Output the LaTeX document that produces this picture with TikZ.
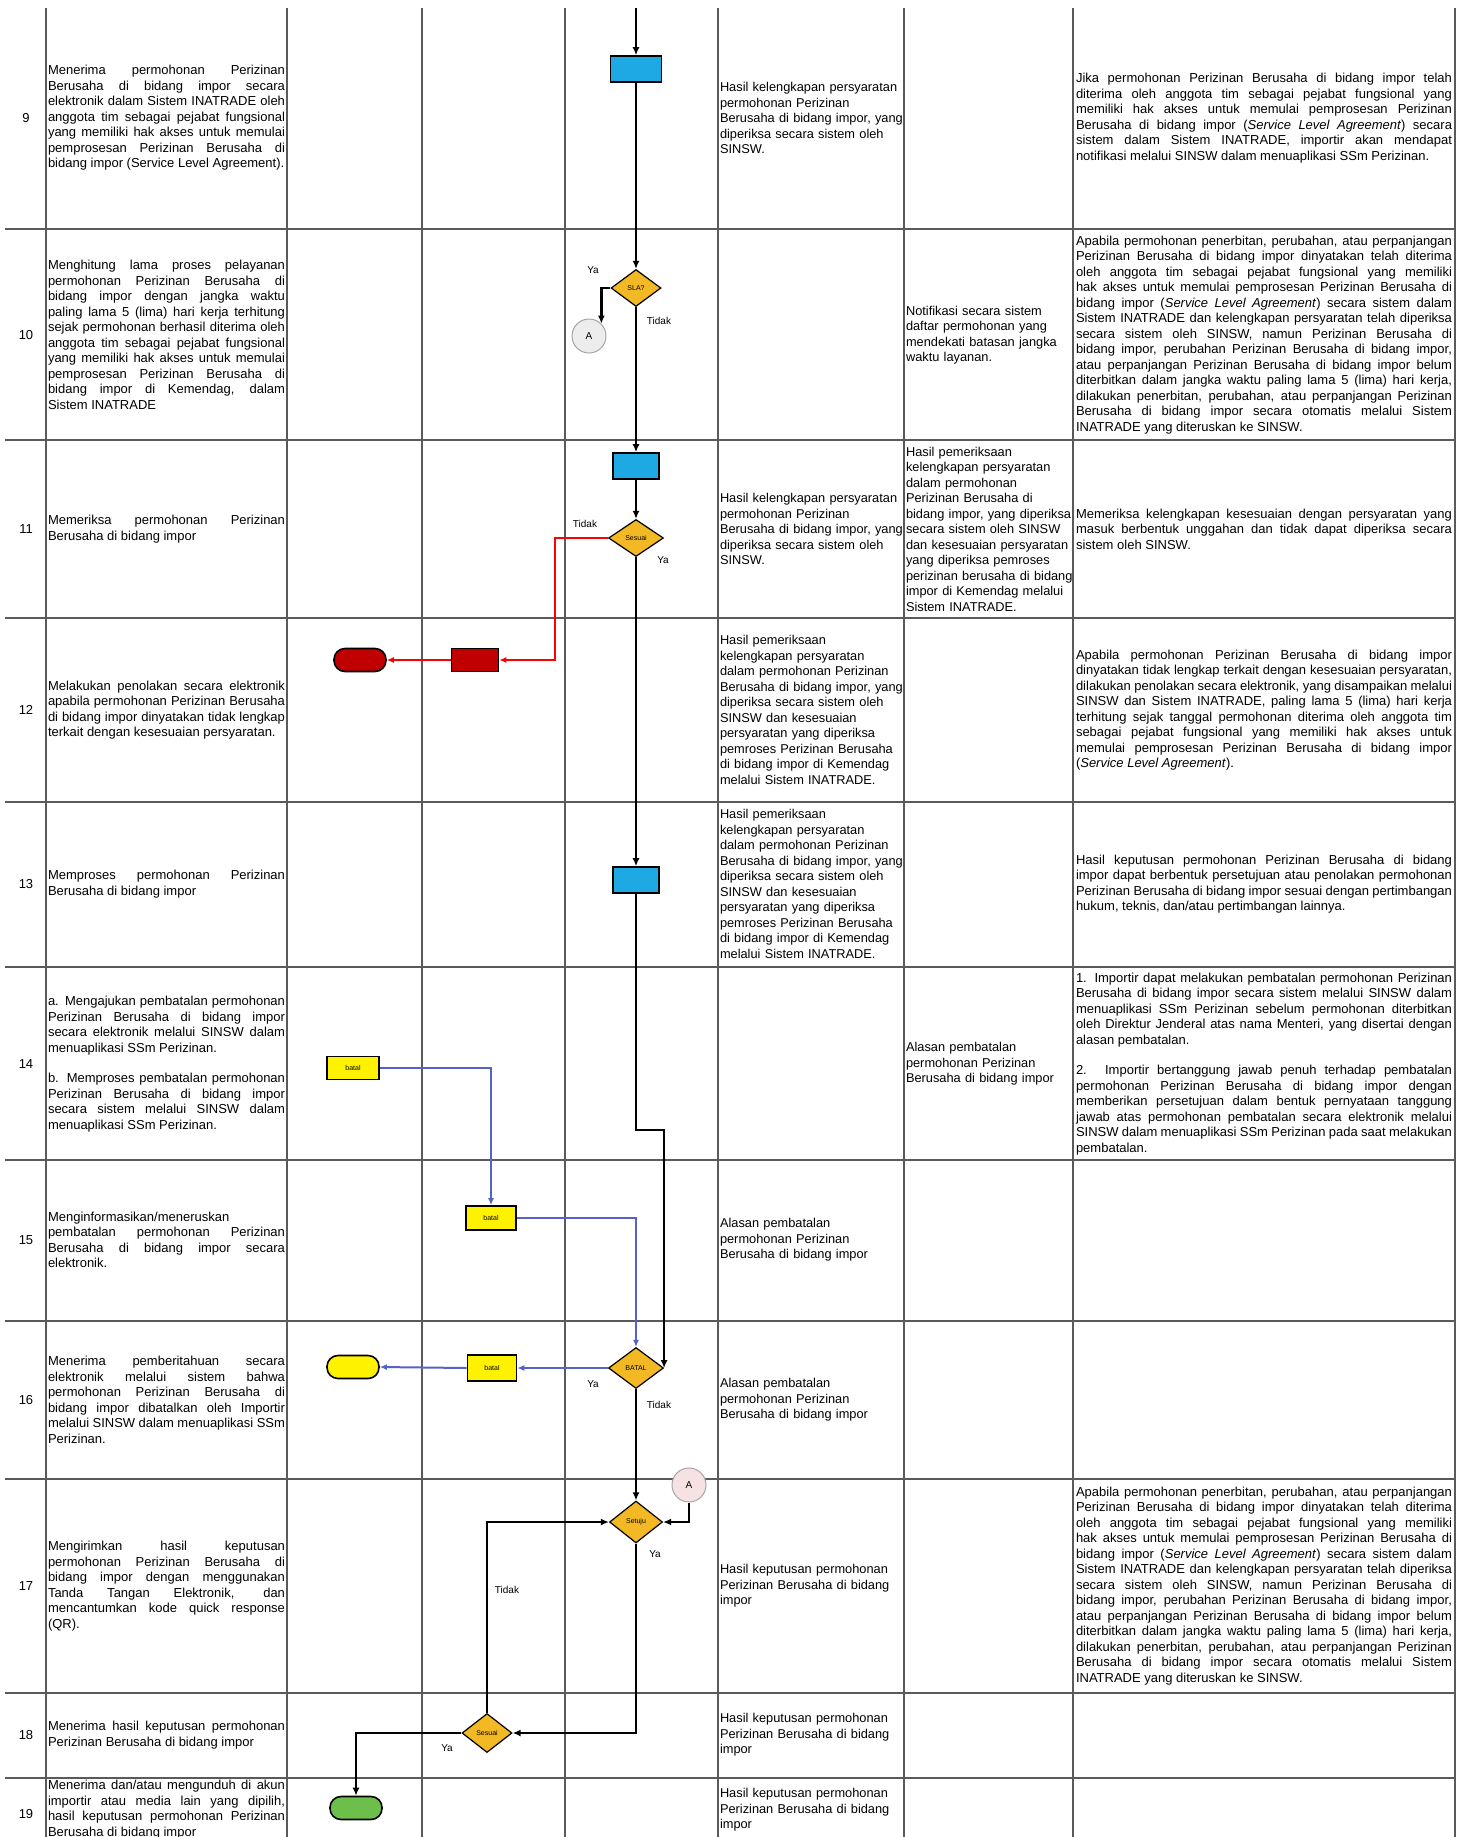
\documentclass[tikz,border=0pt]{standalone}
\usepackage{fontspec}
\setmainfont{Liberation Sans}
\usetikzlibrary{shapes.geometric,arrows.meta,calc}
\definecolor{gridc}{HTML}{5A5A5A}
\definecolor{procblue}{HTML}{1EA8E4}
\definecolor{decgold}{HTML}{F2B925}
\definecolor{darkred}{HTML}{C00000}
\definecolor{flowblue}{HTML}{5563C8}
\definecolor{termgreen}{HTML}{6CBF4A}
\definecolor{conngray}{HTML}{EDEDED}
\definecolor{connpink}{HTML}{F6E2E2}
\newcommand\cellfont{\fontsize{13}{15.5}\selectfont\hyphenpenalty=10000\exhyphenpenalty=10000\tolerance=9999\emergencystretch=3em}
\newcommand\midfont{\fontsize{12.8}{15.5}\selectfont\hyphenpenalty=10000\exhyphenpenalty=10000}
\newcommand\sla{\textit{Service Level Agreement}}
\begin{document}
\begin{tikzpicture}[x=1pt,y=-1pt,
  gridline/.style={draw=gridc, line width=1.5pt},
  cellL/.style={text width=237pt, align=justify, font=\cellfont, inner sep=0pt},
  cellM/.style={text width=184pt, align=left, font=\midfont, inner sep=0pt},
  cellN/.style={text width=167pt, align=left, font=\midfont, inner sep=0pt},
  cellR/.style={text width=376pt, align=justify, font=\cellfont, inner sep=0pt},
  rownum/.style={font=\cellfont, inner sep=0pt},
  procbox/.style={draw=black, line width=1.6pt, fill=procblue, inner sep=0pt},
  decbox/.style={diamond, draw=black, line width=1.2pt, fill=decgold, inner sep=0pt, font=\fontsize{7}{8}\selectfont},
  redbox/.style={draw=black, line width=1.6pt, fill=darkred, inner sep=0pt},
  yelbox/.style={draw=black, line width=1.6pt, fill=yellow, inner sep=0pt, font=\fontsize{7}{8}\selectfont},
  termred/.style={draw=black, line width=1.6pt, fill=darkred, rounded corners=11pt, inner sep=0pt},
  termyel/.style={draw=black, line width=1.6pt, fill=yellow, rounded corners=11pt, inner sep=0pt},
  termgrn/.style={draw=black, line width=1.6pt, fill=termgreen, rounded corners=11pt, inner sep=0pt},
  connA/.style={circle, draw=gray!70, line width=1pt, inner sep=0pt, minimum size=34pt, font=\fontsize{10}{11}\selectfont},
  lbl/.style={font=\fontsize{10}{11}\selectfont, inner sep=1pt},
  flow/.style={draw=black, line width=2.4pt, -{Latex[length=8pt,width=7pt]}},
  redflow/.style={draw=red, line width=2pt, -{Latex[length=7pt,width=6pt]}},
  blueflow/.style={draw=flowblue, line width=2pt, -{Latex[length=7pt,width=6pt]}}
]
\useasboundingbox (0,0) rectangle (1467,1837);
\fill[white] (0,0) rectangle (1467,1837);

% grid
\foreach \y in {229,440,618,802,967,1160,1321,1479,1693,1778}
  \draw[gridline] (5,\y) -- (1455,\y);
\foreach \x in {46,287,422,565,718,904,1073,1455}
  \draw[gridline] (\x,8) -- (\x,1837);

% row numbers
\node[rownum] (n9) at (26,118) {9};
\node[rownum] (n10) at (26,335) {10};
\node[rownum] (n11) at (26,529) {11};
\node[rownum] (n12) at (26,710) {12};
\node[rownum] (n13) at (26,884) {13};
\node[rownum] (n14) at (26,1064) {14};
\node[rownum] (n15) at (26,1240) {15};
\node[rownum] (n16) at (26,1400) {16};
\node[rownum] (n17) at (26,1586) {17};
\node[rownum] (n18) at (26,1735) {18};
\node[rownum] (n19) at (26,1814) {19};

% activity column
\node[cellL] (a9) at (166.5,118) {Menerima permohonan Perizinan Berusaha di bidang impor secara elektronik dalam Sistem INATRADE oleh anggota tim sebagai pejabat fungsional yang memiliki hak akses untuk memulai pemprosesan Perizinan Berusaha di bidang impor (Service Level Agreement).};
\node[cellL] (a10) at (166.5,335) {Menghitung lama proses pelayanan permohonan Perizinan Berusaha di bidang impor dengan jangka waktu paling lama 5 (lima) hari kerja terhitung sejak permohonan berhasil diterima oleh anggota tim sebagai pejabat fungsional yang memiliki hak akses untuk memulai pemprosesan Perizinan Berusaha di bidang impor di Kemendag, dalam Sistem INATRADE};
\node[cellL] (a11) at (166.5,529) {Memeriksa permohonan Perizinan Berusaha di bidang impor};
\node[cellL] (a12) at (166.5,710) {Melakukan penolakan secara elektronik apabila permohonan Perizinan Berusaha di bidang impor dinyatakan tidak lengkap terkait dengan kesesuaian persyaratan.};
\node[cellL] (a13) at (166.5,884) {Memproses permohonan Perizinan Berusaha di bidang impor};
\node[cellL] (a14) at (166.5,1064) {a. Mengajukan pembatalan permohonan Perizinan Berusaha di bidang impor secara elektronik melalui SINSW dalam menuaplikasi SSm Perizinan.\par\vspace{15pt}b. Memproses pembatalan permohonan Perizinan Berusaha di bidang impor secara sistem melalui SINSW dalam menuaplikasi SSm Perizinan.};
\node[cellL] (a15) at (166.5,1240) {Menginformasikan/meneruskan pembatalan permohonan Perizinan Berusaha di bidang impor secara elektronik.};
\node[cellL] (a16) at (166.5,1400) {Menerima pemberitahuan secara elektronik melalui sistem bahwa permohonan Perizinan Berusaha di bidang impor dibatalkan oleh Importir melalui SINSW dalam menuaplikasi SSm Perizinan.};
\node[cellL] (a17) at (166.5,1586) {Mengirimkan hasil keputusan permohonan Perizinan Berusaha di bidang impor dengan menggunakan Tanda Tangan Elektronik, dan mencantumkan kode quick response (QR).};
\node[cellL] (a18) at (166.5,1735) {Menerima hasil keputusan permohonan Perizinan Berusaha di bidang impor};
\node[cellL, anchor=north] (a19) at (166.5,1780) {Menerima dan/atau mengunduh di akun importir atau media lain yang dipilih, hasil keputusan permohonan Perizinan Berusaha di bidang impor};

% output column
\node[cellM] (o9) at (812,118) {Hasil kelengkapan persyaratan\\permohonan Perizinan\\Berusaha di bidang impor, yang\\diperiksa secara sistem oleh\\SINSW.};
\node[cellM] (o11) at (812,529) {Hasil kelengkapan persyaratan\\permohonan Perizinan\\Berusaha di bidang impor, yang\\diperiksa secara sistem oleh\\SINSW.};
\node[cellM] (o12) at (812,710) {Hasil pemeriksaan\\kelengkapan persyaratan\\dalam permohonan Perizinan\\Berusaha di bidang impor, yang\\diperiksa secara sistem oleh\\SINSW dan kesesuaian\\persyaratan yang diperiksa\\pemroses Perizinan Berusaha\\di bidang impor di Kemendag\\melalui Sistem INATRADE.};
\node[cellM] (o13) at (812,884) {Hasil pemeriksaan\\kelengkapan persyaratan\\dalam permohonan Perizinan\\Berusaha di bidang impor, yang\\diperiksa secara sistem oleh\\SINSW dan kesesuaian\\persyaratan yang diperiksa\\pemroses Perizinan Berusaha\\di bidang impor di Kemendag\\melalui Sistem INATRADE.};
\node[cellM] (o15) at (812,1240) {Alasan pembatalan\\permohonan Perizinan\\Berusaha di bidang impor};
\node[cellM] (o16) at (812,1400) {Alasan pembatalan\\permohonan Perizinan\\Berusaha di bidang impor};
\node[cellM] (o17) at (812,1586) {Hasil keputusan permohonan\\Perizinan Berusaha di bidang\\impor};
\node[cellM] (o18) at (812,1735) {Hasil keputusan permohonan\\Perizinan Berusaha di bidang\\impor};
\node[cellM] (o19) at (812,1810) {Hasil keputusan permohonan\\Perizinan Berusaha di bidang\\impor};

% second output column
\node[cellN] (p10) at (989.5,335) {Notifikasi secara sistem\\daftar permohonan yang\\mendekati batasan jangka\\waktu layanan.};
\node[cellN] (p11) at (989.5,529) {Hasil pemeriksaan\\kelengkapan persyaratan\\dalam permohonan\\Perizinan Berusaha di\\bidang impor, yang diperiksa\\secara sistem oleh SINSW\\dan kesesuaian persyaratan\\yang diperiksa pemroses\\perizinan berusaha di bidang\\impor di Kemendag melalui\\Sistem INATRADE.};
\node[cellN] (p14) at (989.5,1064) {Alasan pembatalan\\permohonan Perizinan\\Berusaha di bidang impor};

% remarks column
\node[cellR] (k9) at (1264,118) {Jika permohonan Perizinan Berusaha di bidang impor telah diterima oleh anggota tim sebagai pejabat fungsional yang memiliki hak akses untuk memulai pemprosesan Perizinan Berusaha di bidang impor (\sla) secara sistem dalam Sistem INATRADE, importir akan mendapat notifikasi melalui SINSW dalam menuaplikasi SSm Perizinan.};
\node[cellR] (k10) at (1264,335) {Apabila permohonan penerbitan, perubahan, atau perpanjangan Perizinan Berusaha di bidang impor dinyatakan telah diterima oleh anggota tim sebagai pejabat fungsional yang memiliki hak akses untuk memulai pemprosesan Perizinan Berusaha di bidang impor (\sla) secara sistem dalam Sistem INATRADE dan kelengkapan persyaratan telah diperiksa secara sistem oleh SINSW, namun Perizinan Berusaha di bidang impor, perubahan Perizinan Berusaha di bidang impor, atau perpanjangan Perizinan Berusaha di bidang impor belum diterbitkan dalam jangka waktu paling lama 5 (lima) hari kerja, dilakukan penerbitan, perubahan, atau perpanjangan Perizinan Berusaha di bidang impor secara otomatis melalui Sistem INATRADE yang diteruskan ke SINSW.};
\node[cellR] (k11) at (1264,529) {Memeriksa kelengkapan kesesuaian dengan persyaratan yang masuk berbentuk unggahan dan tidak dapat diperiksa secara sistem oleh SINSW.};
\node[cellR] (k12) at (1264,710) {Apabila permohonan Perizinan Berusaha di bidang impor dinyatakan tidak lengkap terkait dengan kesesuaian persyaratan, dilakukan penolakan secara elektronik, yang disampaikan melalui SINSW dan Sistem INATRADE, paling lama 5 (lima) hari kerja terhitung sejak tanggal permohonan diterima oleh anggota tim sebagai pejabat fungsional yang memiliki hak akses untuk memulai pemprosesan Perizinan Berusaha di bidang impor (\sla).};
\node[cellR] (k13) at (1264,884) {Hasil keputusan permohonan Perizinan Berusaha di bidang impor dapat berbentuk persetujuan atau penolakan permohonan Perizinan Berusaha di bidang impor sesuai dengan pertimbangan hukum, teknis, dan/atau pertimbangan lainnya.};
\node[cellR] (k14) at (1264,1064) {1. Importir dapat melakukan pembatalan permohonan Perizinan Berusaha di bidang impor secara sistem melalui SINSW dalam menuaplikasi SSm Perizinan sebelum permohonan diterbitkan oleh Direktur Jenderal atas nama Menteri, yang disertai dengan alasan pembatalan.\par\vspace{15pt}2. Importir bertanggung jawab penuh terhadap pembatalan permohonan Perizinan Berusaha di bidang impor dengan memberikan persetujuan dalam bentuk pernyataan tanggung jawab atas permohonan pembatalan secara elektronik melalui SINSW dalam menuaplikasi SSm Perizinan pada saat melakukan pembatalan.};
\node[cellR] (k17) at (1264,1586) {Apabila permohonan penerbitan, perubahan, atau perpanjangan Perizinan Berusaha di bidang impor dinyatakan telah diterima oleh anggota tim sebagai pejabat fungsional yang memiliki hak akses untuk memulai pemprosesan Perizinan Berusaha di bidang impor (\sla) secara sistem dalam Sistem INATRADE dan kelengkapan persyaratan telah diperiksa secara sistem oleh SINSW, namun Perizinan Berusaha di bidang impor, perubahan Perizinan Berusaha di bidang impor, atau perpanjangan Perizinan Berusaha di bidang impor belum diterbitkan dalam jangka waktu paling lama 5 (lima) hari kerja, dilakukan penerbitan, perubahan, atau perpanjangan Perizinan Berusaha di bidang impor secara otomatis melalui Sistem INATRADE yang diteruskan ke SINSW.};

% flowchart nodes
\coordinate (top) at (636,8);
\node[procbox, minimum width=51pt, minimum height=26pt] (b1) at (636,69) {};
\node[decbox, minimum width=50pt, minimum height=37pt] (d1) at (636,288) {SLA?};
\node[connA, fill=conngray] (A1) at (589,336) {A};
\node[procbox, minimum width=46pt, minimum height=26pt] (b2) at (636,466) {};
\node[decbox, minimum width=55pt, minimum height=37pt] (d2) at (636,538) {Sesuai};
\node[redbox, minimum width=47pt, minimum height=23pt] (r1) at (475,660) {};
\node[termred, minimum width=52pt, minimum height=23pt] (rt) at (360,660) {};
\coordinate (rc) at (555,660);
\node[procbox, minimum width=46pt, minimum height=26pt] (b3) at (636,880) {};
\coordinate (j1) at (636,1130);
\node[yelbox, minimum width=52pt, minimum height=23pt] (y1) at (353,1068) {batal};
\node[yelbox, minimum width=50pt, minimum height=24pt] (y2) at (491,1218) {batal};
\node[decbox, minimum width=55pt, minimum height=41pt] (d3) at (636,1368) {BATAL};
\node[yelbox, minimum width=49pt, minimum height=26pt] (y3) at (492,1368) {batal};
\node[termyel, minimum width=52pt, minimum height=23pt] (yt) at (353,1367) {};
\node[connA, fill=connpink] (A2) at (689,1485) {A};
\node[decbox, minimum width=53pt, minimum height=42pt] (d4) at (636,1522) {Setuju};
\node[decbox, minimum width=50pt, minimum height=39pt] (d5) at (487,1733) {Sesuai};
\node[termgrn, minimum width=52pt, minimum height=23pt] (gt) at (356,1808) {};

% connectors
\draw[flow] (top) -- (b1.north);
\draw[flow] (b1.south) -- (d1.north);
\draw[flow] (d1.west) -| (A1.north east);
\draw[flow] (d1.south) -- (b2.north);
\draw[flow] (b2.south) -- (d2.north);
\draw[redflow] (d2.west) -| (rc) -- (r1.east);
\draw[redflow] (r1.west) -- (rt.east);
\draw[flow] (d2.south) -- (b3.north);
\draw[flow] (b3.south) -- (j1) -| (d3.east);
\draw[blueflow] (y1.east) -| (y2.north);
\draw[blueflow] (y2.east) -| (d3.north);
\draw[blueflow] (d3.west) -- (y3.east);
\draw[blueflow] (y3.west) -- (yt.east);
\draw[flow] (d3.south) -- (d4.north);
\draw[flow] (A2.south) |- (d4.east);
\draw[flow] (d4.south) |- (d5.east);
\draw[flow] (d5.north) |- (d4.west);
\draw[flow] (d5.west) -| (gt.north);

% branch labels
\node[lbl] (l1) at (593,270) {Ya};
\node[lbl] (l2) at (659,321) {Tidak};
\node[lbl] (l3) at (585,524) {Tidak};
\node[lbl] (l4) at (663,560) {Ya};
\node[lbl] (l5) at (593,1384) {Ya};
\node[lbl] (l6) at (659,1405) {Tidak};
\node[lbl] (l7) at (655,1554) {Ya};
\node[lbl] (l8) at (507,1590) {Tidak};
\node[lbl] (l9) at (447,1748) {Ya};
\end{tikzpicture}
\end{document}
